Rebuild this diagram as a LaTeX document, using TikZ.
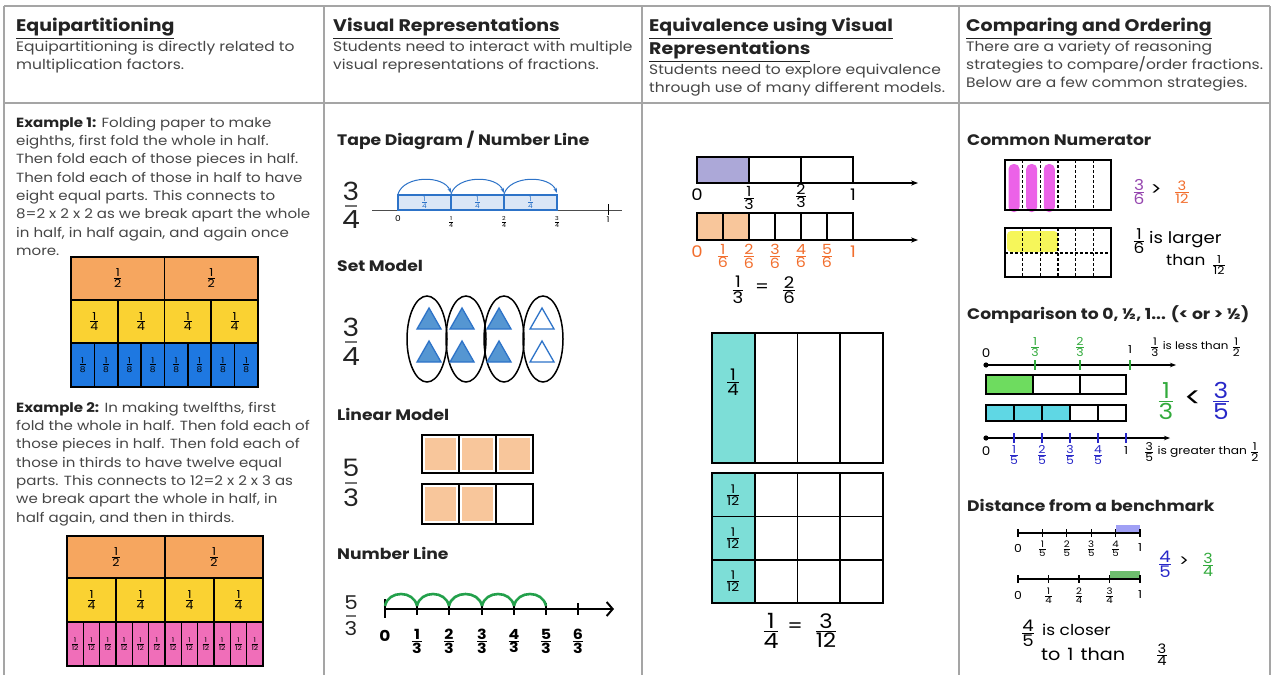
\documentclass[tikz,border=0pt]{standalone}
\usepackage{amsmath}
\usepackage{fontspec}
\setmainfont{Poppins}[FakeStretch=1.13]
\usetikzlibrary{arrows.meta,shapes.geometric}
\definecolor{gridc}{RGB}{165,165,165}
\definecolor{titlec}{RGB}{35,35,35}
\definecolor{bodyc}{RGB}{70,70,70}
\definecolor{halfor}{RGB}{246,166,95}
\definecolor{quarty}{RGB}{250,210,50}
\definecolor{eighb}{RGB}{30,120,225}
\definecolor{twpink}{RGB}{240,110,185}
\definecolor{tapeb}{RGB}{45,115,200}
\definecolor{tapefill}{RGB}{218,230,246}
\definecolor{trifill}{RGB}{85,150,210}
\definecolor{peach}{RGB}{248,198,155}
\definecolor{nlgreen}{RGB}{35,160,75}
\definecolor{lav}{RGB}{172,168,216}
\definecolor{orlab}{RGB}{242,110,45}
\definecolor{teal}{RGB}{125,222,215}
\definecolor{mag}{RGB}{236,98,232}
\definecolor{yel}{RGB}{246,246,90}
\definecolor{purp}{RGB}{150,70,175}
\definecolor{gr2}{RGB}{50,170,60}
\definecolor{lgreen}{RGB}{110,220,95}
\definecolor{cyanF}{RGB}{95,215,228}
\definecolor{blueH}{RGB}{40,40,200}
\definecolor{blueHL}{RGB}{160,160,245}
\definecolor{greenHL}{RGB}{110,190,110}
\newcommand{\fr}[2]{$\genfrac{}{}{0.9pt}{}{\hbox{#1}}{\hbox{#2}}$}
\begin{document}
\begin{tikzpicture}[x=1pt,y=-1pt,
  grid/.style={draw=gridc,line width=1.3pt},
  title/.style={anchor=north west,inner sep=0,align=left,text=titlec,font=\fontsize{16.8}{23}\selectfont\bfseries},
  hbody/.style={anchor=north west,inner sep=0,align=left,text=bodyc,font=\fontsize{13.7}{18}\selectfont},
  cbody/.style={anchor=north west,inner sep=0,align=left,text=bodyc,font=\fontsize{13.3}{18.3}\selectfont},
  sub/.style={anchor=west,inner sep=0,text=titlec,font=\fontsize{15.2}{18}\selectfont\bfseries},
  hw/.style={inner sep=0,font=\fontsize{#1}{#1}\selectfont},
  bigd/.style={inner sep=0,text=titlec,font=\fontsize{#1}{#1}\selectfont},
  bigrule/.style={draw=black!55,line width=1.1pt},
  cell/.style={draw=black,line width=1.6pt},
  thick cell/.style={draw=black,line width=2.8pt},
  dcell/.style={draw=black,line width=1.2pt,dash pattern=on 3pt off 2pt},
]
\useasboundingbox (0,0) rectangle (1273,675);
\fill[white] (0,0) rectangle (1273,675);
% ---------- table grid ----------
\draw[grid] (4,6) -- (1270,6);
\draw[grid] (4,6) -- (4,675);
\draw[grid] (1270,6) -- (1270,675);
\draw[grid] (4,103) -- (1270,103);
\foreach \x in {324,642,959} \draw[grid] (\x,6) -- (\x,675);
% ---------- headers ----------
\node[title] (t1) at (16,18) {\underline{Equipartitioning}};
\node[hbody] (h1) at (16,40.5) {Equipartitioning is directly related to\\multiplication factors.};
\node[title] (t2) at (333,18) {\underline{Visual Representations}};
\node[hbody] (h2) at (333,40.5) {Students need to interact with multiple\\visual representations of fractions.};
\node[title] (t3) at (649,18) {\underline{Equivalence using Visual}\\\underline{Representations}};
\node[hbody] (h3) at (649,63.5) {Students need to explore equivalence\\through use of many different models.};
\node[title] (t4) at (966,18) {\underline{Comparing and Ordering}};
\node[hbody] (h4) at (966,40.5) {There are a variety of reasoning\\strategies to compare/order fractions.\\Below are a few common strategies.};
% ---------- column 1 ----------
\node[cbody] (ex1) at (16,117) {\textcolor{titlec}{\bfseries Example 1:} Folding paper to make\\eighths, first fold the whole in half.\\Then fold each of those pieces in half.\\Then fold each of those in half to have\\eight equal parts. This connects to\\8=2 x 2 x 2 as we break apart the whole\\in half, in half again, and again once\\more.};
\fill[halfor] (71,257) rectangle (258,300);
\fill[quarty] (71,300) rectangle (258,343);
\fill[eighb] (71,343) rectangle (258,387);
\foreach \i in {0,1}{\draw[cell] ({71+\i*93.5},257) rectangle ++(93.5,43);
  \node[hw=11] (a\i) at ({71+(\i+0.5)*93.5},278.5) {\fr{1}{2}};}
\foreach \i in {0,...,3}{\draw[cell] ({71+\i*46.75},300) rectangle ++(46.75,43);
  \node[hw=11] (b\i) at ({71+(\i+0.5)*46.75},321.5) {\fr{1}{4}};}
\foreach \i in {0,...,7}{\draw[cell] ({71+\i*23.375},343) rectangle ++(23.375,44);
  \node[hw=8] (c\i) at ({71+(\i+0.5)*23.375},365) {\fr{1}{8}};}
\node[cbody] (ex2) at (16,402) {\textcolor{titlec}{\bfseries Example 2:} In making twelfths, first\\fold the whole in half. Then fold each of\\those pieces in half. Then fold each of\\those in thirds to have twelve equal\\parts. This connects to 12=2 x 2 x 3 as\\we break apart the whole in half, in\\half again, and then in thirds.};
\fill[halfor] (67,536) rectangle (263,578);
\fill[quarty] (67,578) rectangle (263,622);
\fill[twpink] (67,622) rectangle (263,666);
\foreach \i in {0,1}{\draw[cell] ({67+\i*98},536) rectangle ++(98,42);
  \node[hw=11] (d\i) at ({67+(\i+0.5)*98},557) {\fr{1}{2}};}
\foreach \i in {0,...,3}{\draw[cell] ({67+\i*49},578) rectangle ++(49,44);
  \node[hw=11] (e\i) at ({67+(\i+0.5)*49},600) {\fr{1}{4}};}
\foreach \i in {0,...,11}{\draw[cell] ({67+\i*16.333},622) rectangle ++(16.333,44);
  \node[hw=6.5] (f\i) at ({67+(\i+0.5)*16.333},644) {\fr{1}{12}};}
% ---------- column 2 ----------
\node[sub] (s21) at (337,140) {Tape Diagram / Number Line};
\node[bigd=25] (q21n) at (351,191) {3};
\node[bigd=25] (q21d) at (351,220) {4};
\draw[bigrule] (345,206) -- (357,206);
\draw[line width=1pt,draw=black!70] (372,210) -- (622,210);
\foreach \i/\x in {0/398,1/451,2/504}{
  \draw[fill=tapefill,draw=tapeb,line width=1.4pt] (\x,195) rectangle ++(53,15);
  \node[hw=6.5,text=tapeb] (tp\i) at ({\x+26.5},202.5) {\fr{1}{4}};
  \draw[tapeb,line width=1pt,-{Stealth[length=5pt]}] (\x,194) .. controls ({\x+6},175) and ({\x+46},175) .. ({\x+53},193);}
\draw[line width=1pt] (608,204) -- (608,215);
\node[hw=8] (tl0) at (398,219) {0};
\node[hw=5.5] (tl1) at (451,222) {\fr{1}{4}};
\node[hw=5.5] (tl2) at (504,222) {\fr{2}{4}};
\node[hw=5.5] (tl3) at (557,222) {\fr{3}{4}};
\node[hw=8] (tl4) at (608,220) {1};
\node[sub] (s22) at (337,266) {Set Model};
\node[bigd=25] (q22n) at (351,327) {3};
\node[bigd=25] (q22d) at (351,357) {4};
\draw[bigrule] (345,342) -- (357,342);
\foreach \i/\x in {1/427,2/466,3/504,4/543}
  \node[draw,ellipse,line width=1.5pt,minimum width=40pt,minimum height=86pt,inner sep=0] (el\i) at (\x,339) {};
\foreach \x/\f in {429/trifill,462/trifill,499/trifill,542/white}{
  \foreach \y in {319,352}{
    \draw[draw=tapeb,fill=\f,line width=1.3pt] ({\x-12},{\y+10}) -- (\x,{\y-11}) -- ({\x+12},{\y+10}) -- cycle;}}
\node[sub] (s23) at (337,414) {Linear Model};
\node[bigd=24] (q23n) at (351,468) {5};
\node[bigd=24] (q23d) at (351,498) {3};
\draw[bigrule] (345,483) -- (357,483);
\foreach \x in {422,459,496}{\fill[peach] ({\x+3},438) rectangle ({\x+34},470);}
\foreach \x in {422,459}{\fill[peach] ({\x+3},487) rectangle ({\x+34},521);}
\foreach \x in {422,459,496}{\draw[thick cell] (\x,435) rectangle ++(37,38); \draw[thick cell] (\x,484) rectangle ++(37,40);}
\node[sub] (s24) at (337,553) {Number Line};
\node[bigd=19] (q24n) at (351,603) {5};
\node[bigd=19] (q24d) at (351,629) {3};
\draw[bigrule] (346,616) -- (356,616);
\draw[line width=2pt,-{Straight Barb[length=6pt,width=14pt]}] (385,609) -- (614,609);
\draw[line width=2pt] (385,599) -- (385,618);
\foreach \x in {417,449,482,514,546,578} \draw[line width=1.8pt] (\x,603) -- (\x,615);
\foreach \a/\b in {385/417,417/449,449/482,482/514,514/546}
  \draw[nlgreen,line width=2.6pt] (\a,606) .. controls ({\a+3},590) and ({\b-3},590) .. (\b,606);
\node[hw=15,font=\fontsize{15}{15}\selectfont\bfseries] (n0) at (385,636) {0};
\foreach \k/\x in {1/417,2/449,3/482,4/514,5/546,6/578}
  \node[hw=14,font=\fontsize{14}{14}\selectfont\bfseries] (n\k) at (\x,641) {\fr{\k}{3}};
% ---------- column 3 ----------
\fill[lav] (697,157) rectangle (749,183);
\draw[cell] (697,157) rectangle (853,183);
\foreach \x in {749,801} \draw[cell] (\x,157) -- (\x,183);
\draw[line width=1.6pt,-{Stealth[length=7pt]}] (853,183) -- (918,183);
\node[hw=16] (m0) at (697,195) {0};
\node[hw=14] (m1) at (749,198) {\fr{1}{3}};
\node[hw=14] (m2) at (801,196) {\fr{2}{3}};
\node[hw=16] (m3) at (853,195) {1};
\fill[peach] (697,213) rectangle (749,240);
\draw[cell] (697,213) rectangle (853,240);
\foreach \x in {723,749,775,801,827} \draw[cell] (\x,213) -- (\x,240);
\draw[line width=1.6pt,-{Stealth[length=7pt]}] (853,240) -- (918,240);
\node[hw=16,text=orlab] (o0) at (697,252) {0};
\foreach \k/\x in {1/723,2/749,3/775,4/801,5/827}
  \node[hw=14,text=orlab] (o\k) at (\x,256) {\fr{\k}{6}};
\node[hw=16,text=orlab] (o6) at (853,252) {1};
\node[hw=16] (eq1a) at (738,290) {\fr{1}{3}};
\node[hw=17] (eq1b) at (762,288) {=};
\node[hw=16] (eq1c) at (789,290) {\fr{2}{6}};
\fill[teal] (712,333) rectangle (754.75,463);
\draw[cell] (712,333) rectangle (883,463);
\foreach \x in {754.75,797.5,840.25} \draw[cell] (\x,333) -- (\x,463);
\node[hw=16] (g0) at (733,382) {\fr{1}{4}};
\fill[teal] (712,473) rectangle (754.75,603);
\draw[cell] (712,473) rectangle (883,603);
\foreach \x in {754.75,797.5,840.25} \draw[cell] (\x,473) -- (\x,603);
\foreach \y in {516.3,559.7} \draw[cell] (712,\y) -- (883,\y);
\foreach \k/\y in {1/495,2/538,3/581} \node[hw=12] (g\k) at (733,\y) {\fr{1}{12}};
\node[hw=21] (eq2a) at (771,631) {\fr{1}{4}};
\node[hw=19] (eq2b) at (795,628) {=};
\node[hw=20] (eq2c) at (826,631) {\fr{3}{12}};
% ---------- column 4 ----------
\node[sub] (s41) at (967,140) {Common Numerator};
\foreach \x in {1008.5,1026.2,1043.8}
  \fill[mag,rounded corners=5pt] (\x,164) rectangle ({\x+11},212);
\draw[cell] (1005,160) rectangle (1111,210);
\foreach \k in {1,...,5} \draw[dcell] ({1005+\k*17.667},160) -- ({1005+\k*17.667},210);
\node[hw=15,text=purp] (cn1) at (1139,192) {\fr{3}{6}};
\node[hw=18] (cn2) at (1156,190) {>};
\node[hw=13,text=orlab] (cn3) at (1182,192) {\fr{3}{12}};
\fill[yel,rounded corners=4pt] (1007,231) rectangle (1058,252);
\draw[cell] (1005,228) rectangle (1111,277);
\foreach \k in {1,...,5} \draw[dcell] ({1005+\k*17.667},228) -- ({1005+\k*17.667},277);
\draw[dcell] (1005,253) -- (1111,253);
\node[hw=15] (cl1) at (1139,241) {\fr{1}{6}};
\node[hw=16,anchor=west] (cl2) at (1149,240) {is larger};
\node[hw=15,anchor=west] (cl3) at (1166,260) {than};
\node[hw=11] (cl4) at (1219,265) {\fr{1}{12}};
\node[sub] (s42) at (967,315) {Comparison to 0, ½, 1... (< or > ½)};
\draw[line width=1.6pt,-{Stealth[length=6pt]}] (986,365) -- (1176,365);
\fill (986,365) circle (2.6);
\foreach \x in {1035,1080,1130} \draw[gr2,line width=1.2pt] (\x,360) -- (\x,370);
\node[hw=12] (cp0) at (986,353) {0};
\node[hw=11,text=gr2] (cp1) at (1035,347) {\fr{1}{3}};
\node[hw=11,text=gr2] (cp2) at (1080,347) {\fr{2}{3}};
\node[hw=11] (cp3) at (1130,350) {1};
\node[hw=10.5,anchor=west] (cp4) at (1150,347) {\fr{1}{3} is less than \fr{1}{2}};
\fill[lgreen] (986,375) rectangle (1033,394);
\draw[cell] (986,375) rectangle (1126,394);
\foreach \x in {1033,1080} \draw[cell] (\x,375) -- (\x,394);
\fill[cyanF] (986,405) rectangle (1070,421);
\draw[cell] (986,405) rectangle (1126,421);
\foreach \x in {1014,1042,1070,1098} \draw[cell] (\x,405) -- (\x,421);
\node[hw=22,text=gr2] (lt1) at (1166,401) {\fr{1}{3}};
\node[hw=28] (lt2) at (1193,399) {<};
\node[hw=22,text=blueH] (lt3) at (1221,401) {\fr{3}{5}};
\draw[line width=1.6pt,-{Stealth[length=6pt]}] (986,438) -- (1170,438);
\fill (986,438) circle (2.6);
\foreach \x in {1014,1042,1070,1098,1126} \draw[blueH,line width=1.4pt] (\x,433) -- (\x,443);
\node[hw=12] (cq0) at (986,451) {0};
\foreach \k/\x in {1/1014,2/1042,3/1070,4/1098}
  \node[hw=11,text=blueH] (cq\k) at (\x,455) {\fr{\k}{5}};
\node[hw=11] (cq5) at (1126,451) {1};
\node[hw=10.8,anchor=west] (cq6) at (1144,452) {\fr{3}{5} is greater than \fr{1}{2}};
\node[sub] (s43) at (967,505) {Distance from a benchmark};
\fill[blueHL] (1116,525) rectangle (1140,533);
\draw[line width=1.4pt] (1018,533) -- (1140,533);
\foreach \k in {0,...,5} \draw[line width=1.2pt] ({1018+\k*24.4},529) -- ({1018+\k*24.4},537);
\node[hw=11] (da0) at (1018,548) {0};
\foreach \k in {1,...,4} \node[hw=9] (da\k) at ({1018+\k*24.4},549) {\fr{\k}{5}};
\node[hw=11] (da5) at (1140,548) {1};
\fill[greenHL] (1109.5,571) rectangle (1140,579);
\draw[line width=1.4pt] (1018,579) -- (1140,579);
\foreach \k in {0,...,4} \draw[line width=1.2pt] ({1018+\k*30.5},575) -- ({1018+\k*30.5},583);
\node[hw=11] (db0) at (1018,595) {0};
\foreach \k in {1,...,3} \node[hw=9] (db\k) at ({1018+\k*30.5},596) {\fr{\k}{4}};
\node[hw=11] (db4) at (1140,595) {1};
\node[hw=16,text=blueH] (dc1) at (1165,564) {\fr{4}{5}};
\node[hw=16] (dc2) at (1184,562) {>};
\node[hw=14,text=gr2] (dc3) at (1208,565) {\fr{3}{4}};
\node[hw=16] (dd1) at (1028,633) {\fr{4}{5}};
\node[hw=15,anchor=west] (dd2) at (1042,630) {is closer};
\node[hw=17,anchor=west] (dd3) at (1041,654) {to\hspace{7pt}1\hspace{7pt}than};
\node[hw=13] (dd4) at (1162,655) {\fr{3}{4}};
\end{tikzpicture}
\end{document}
